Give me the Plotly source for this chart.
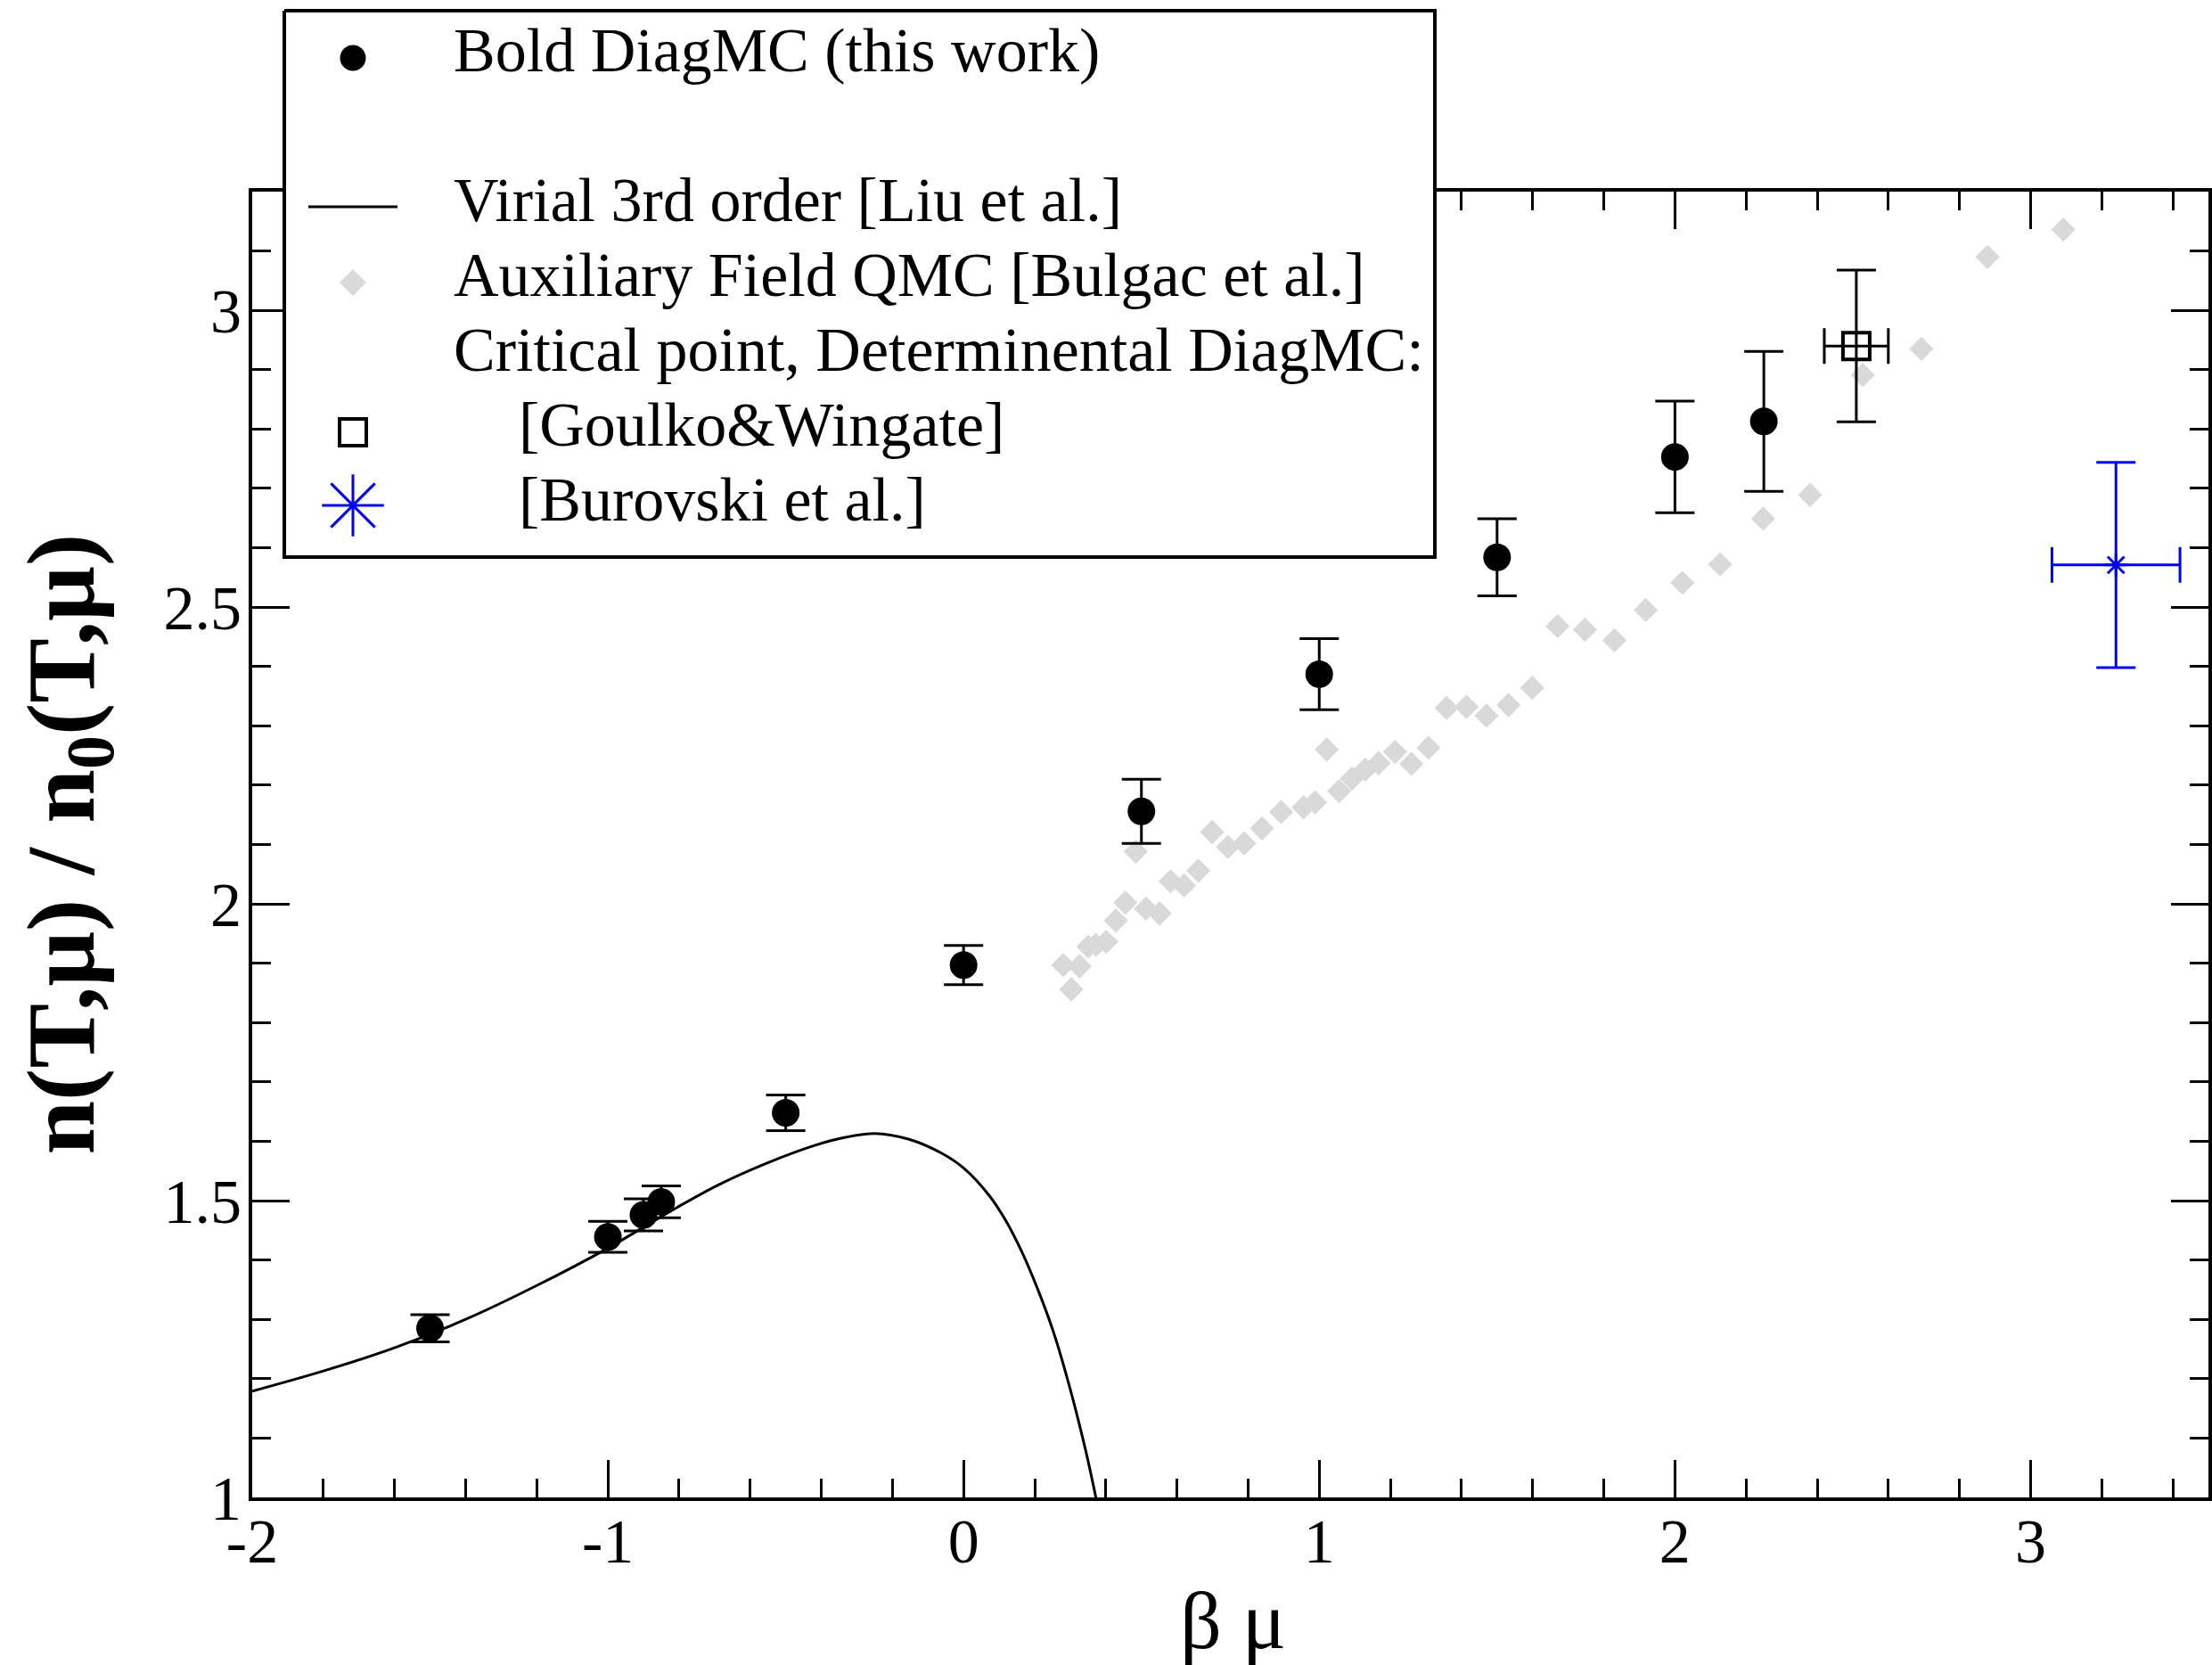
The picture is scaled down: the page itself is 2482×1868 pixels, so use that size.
import plotly.graph_objects as go

# ---------------- data ----------------
# Bold DiagMC (this work)
bold_bm = [-1.5, -1.0, -0.9, -0.85, -0.5, 0.0, 0.5, 1.0, 1.5, 2.0, 2.25]
bold_n = [1.285, 1.439, 1.476, 1.498, 1.648, 1.897, 2.156, 2.387, 2.584, 2.753, 2.813]
bold_err = [0.023, 0.026, 0.027, 0.027, 0.030, 0.033, 0.054, 0.060, 0.065, 0.094, 0.118]

# Virial 3rd order [Liu et al.]
virial_bm = [-2.0, -1.8, -1.6, -1.4, -1.2, -1.0, -0.822, -0.688, -0.554, -0.419,
             -0.330, -0.249, -0.151, -0.062, 0.0, 0.073, 0.117, 0.162, 0.207,
             0.252, 0.296, 0.341, 0.372, 0.38]
virial_n = [1.179, 1.213, 1.252, 1.300, 1.357, 1.420, 1.483, 1.527, 1.563, 1.593,
            1.607, 1.613, 1.603, 1.580, 1.555, 1.508, 1.468, 1.416, 1.353,
            1.280, 1.191, 1.085, 1.0, 0.975]

# Auxiliary Field QMC [Bulgac et al.]
afqmc_bm = [0.280, 0.303, 0.326, 0.351, 0.372, 0.401, 0.428, 0.455, 0.484, 0.513,
            0.551, 0.582, 0.620, 0.660, 0.699, 0.743, 0.789, 0.839, 0.893, 0.956,
            0.988, 1.021, 1.056, 1.092, 1.129, 1.167, 1.213, 1.259, 1.307, 1.358,
            1.414, 1.470, 1.532, 1.599, 1.670, 1.747, 1.830, 1.918, 2.021, 2.127,
            2.248, 2.380, 2.528, 2.693, 2.879, 3.092]
afqmc_n = [1.897, 1.856, 1.895, 1.928, 1.931, 1.936, 1.972, 2.002, 2.088, 1.992,
           1.984, 2.038, 2.031, 2.056, 2.121, 2.096, 2.102, 2.127, 2.155, 2.163,
           2.171, 2.260, 2.190, 2.211, 2.226, 2.237, 2.256, 2.236, 2.263, 2.330,
           2.332, 2.317, 2.335, 2.364, 2.468, 2.462, 2.444, 2.495, 2.541, 2.572,
           2.649, 2.689, 2.891, 2.935, 3.090, 3.136]

# Critical points, Determinental DiagMC
goulko_bm = [2.51]
goulko_n = [2.94]
goulko_err_bm = [0.09]
goulko_err_n = [0.128]

burovski_bm = [3.24]
burovski_n = [2.571]
burovski_err_bm = [0.18]
burovski_err_n = [0.173]

x_tick_vals = [-2, -1, 0, 1, 2, 3]
x_tick_text = ["-2", "-1", "0", "1", "2", "3"]
y_tick_vals = [1, 1.5, 2, 2.5, 3]
y_tick_text = ["1", "1.5", "2", "2.5", "3"]

legend_labels = [
    "Bold DiagMC (this work)",
    "Virial 3rd order [Liu et al.]",
    "Auxiliary Field QMC [Bulgac et al.]",
    "Critical point, Determinental DiagMC:",
    "[Goulko&Wingate]",
    "[Burovski et al.]",
]
x_title = "β μ"
y_title = "<b>n(T,μ) / n<sub>0</sub>(T,μ)</b>"

# ---------------- layout constants (pixels) ----------------
W, H = 2482, 1868
PL, PR, PT, PB = 283, 2478, 215, 1680
FONT = "Liberation Serif"
GRAY = "#d9d9d9"
BLUE = "#0000ff"

fig = go.Figure()

# ---- main data ----
fig.add_trace(go.Scatter(
    x=afqmc_bm, y=afqmc_n, mode="markers",
    marker=dict(symbol="diamond", size=21, color=GRAY, line=dict(width=0)),
    name=legend_labels[2]))

fig.add_trace(go.Scatter(
    x=virial_bm, y=virial_n, mode="lines",
    line=dict(color="black", width=3, shape="spline", smoothing=1.0),
    name=legend_labels[1]))

fig.add_trace(go.Scatter(
    x=bold_bm, y=bold_n, mode="markers",
    marker=dict(symbol="circle", size=31, color="black", line=dict(width=0)),
    error_y=dict(type="data", array=bold_err, visible=True, color="black",
                 thickness=3, width=22),
    name=legend_labels[0]))

fig.add_trace(go.Scatter(
    x=goulko_bm, y=goulko_n, mode="markers",
    marker=dict(symbol="square-open", size=30, color="black", line=dict(width=4)),
    error_y=dict(type="data", array=goulko_err_n, visible=True, color="black",
                 thickness=3, width=22),
    error_x=dict(type="data", array=goulko_err_bm, visible=True, color="black",
                 thickness=3, width=20),
    name=legend_labels[4]))

fig.add_trace(go.Scatter(
    x=burovski_bm, y=burovski_n, mode="markers",
    marker=dict(symbol="asterisk-open", size=22, color=BLUE, line=dict(width=3, color=BLUE)),
    error_y=dict(type="data", array=burovski_err_n, visible=True, color=BLUE,
                 thickness=3, width=22),
    error_x=dict(type="data", array=burovski_err_bm, visible=True, color=BLUE,
                 thickness=3, width=20),
    name=legend_labels[5]))

# ---- legend drawn on a full-figure pixel overlay (x2/y2) ----
LB = dict(l=319, r=1610, t=12, b=625)
fig.add_trace(go.Scatter(
    x=[LB["l"], LB["r"], LB["r"], LB["l"], LB["l"]],
    y=[LB["t"], LB["t"], LB["b"], LB["b"], LB["t"]],
    mode="lines", fill="toself", fillcolor="white",
    line=dict(color="black", width=4), xaxis="x2", yaxis="y2",
    hoverinfo="skip", showlegend=False))

SYMX = 396
baselines = [80, 248, 332, 416, 500, 584]
fig.add_trace(go.Scatter(x=[SYMX], y=[baselines[0] - 15], mode="markers",
                         marker=dict(symbol="circle", size=29, color="black"),
                         xaxis="x2", yaxis="y2", hoverinfo="skip"))
fig.add_trace(go.Scatter(x=[346, 446], y=[baselines[1] - 16, baselines[1] - 16], mode="lines",
                         line=dict(color="black", width=3),
                         xaxis="x2", yaxis="y2", hoverinfo="skip"))
fig.add_trace(go.Scatter(x=[SYMX], y=[baselines[2] - 15], mode="markers",
                         marker=dict(symbol="diamond", size=23, color=GRAY),
                         xaxis="x2", yaxis="y2", hoverinfo="skip"))
fig.add_trace(go.Scatter(x=[SYMX], y=[baselines[4] - 15], mode="markers",
                         marker=dict(symbol="square-open", size=30, color="black",
                                     line=dict(width=4)),
                         xaxis="x2", yaxis="y2", hoverinfo="skip"))
fig.add_trace(go.Scatter(x=[SYMX], y=[baselines[5] - 17], mode="markers",
                         marker=dict(symbol="asterisk-open", size=58, color=BLUE,
                                     line=dict(width=3, color=BLUE)),
                         xaxis="x2", yaxis="y2", hoverinfo="skip"))

text_x = [507, 507, 507, 507, 580, 580]
annotations = []
for lbl, bx, tx in zip(legend_labels, baselines, text_x):
    annotations.append(dict(
        x=tx, y=bx - 24, xref="x2", yref="y2", text=lbl, showarrow=False,
        xanchor="left", yanchor="middle",
        font=dict(family=FONT, size=70, color="black")))

# axis titles
annotations.append(dict(x=(PL + PR) / 2 + 3, y=1818, xref="x2", yref="y2", text=x_title,
                        showarrow=False, xanchor="center", yanchor="middle",
                        font=dict(family=FONT, size=92, color="black")))
annotations.append(dict(x=76, y=(PT + PB) / 2, xref="x2", yref="y2", text=y_title,
                        showarrow=False, xanchor="center", yanchor="middle", textangle=-90,
                        font=dict(family=FONT, size=109, color="black")))

axis_common = dict(
    showgrid=False, zeroline=False, showline=True, linecolor="black", linewidth=4,
    mirror="allticks", ticks="inside", ticklen=42, tickwidth=3, tickcolor="black",
    tickfont=dict(family=FONT, size=70, color="black"),
    tickmode="array", fixedrange=True, automargin=False,
)

fig.update_layout(
    width=W, height=H,
    margin=dict(l=0, r=0, t=0, b=0, pad=0, autoexpand=False),
    paper_bgcolor="white", plot_bgcolor="rgba(0,0,0,0)",
    showlegend=False,
    xaxis=dict(axis_common, domain=[PL / W, PR / W], range=[-2, 3.5],
               tickvals=x_tick_vals, ticktext=x_tick_text, ticklabelstandoff=-15,
               minor=dict(dtick=0.2, tick0=0, ticks="inside", ticklen=21,
                          tickwidth=3, tickcolor="black"),
               anchor="y"),
    yaxis=dict(axis_common, domain=[(H - PB) / H, (H - PT) / H], range=[1, 3.2],
               tickvals=y_tick_vals, ticktext=y_tick_text, ticklabelstandoff=-6,
               minor=dict(dtick=0.1, tick0=0, ticks="inside", ticklen=21,
                          tickwidth=3, tickcolor="black"),
               anchor="x"),
    xaxis2=dict(domain=[0, 1], range=[0, W], visible=False, fixedrange=True,
                anchor="y2", automargin=False),
    yaxis2=dict(domain=[0, 1], range=[H, 0], visible=False, fixedrange=True,
                anchor="x2", automargin=False),
    annotations=annotations,
)

fig.write_html("out.html")
